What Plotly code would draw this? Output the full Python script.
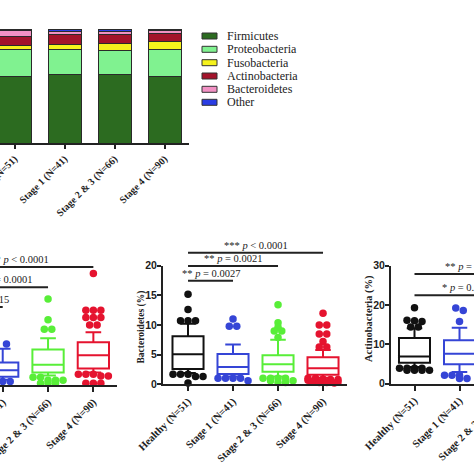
import plotly.graph_objects as go

# ---------------- data ----------------
CATS = ["Healthy (N=51)", "Stage 1 (N=41)", "Stage 2 & 3 (N=66)", "Stage 4 (N=90)"]
GROUP_COLORS = ["#111111", "#3545d6", "#58ee38", "#e5132f"]

PHYLA = ["Firmicutes", "Proteobacteria", "Fusobacteria", "Actinobacteria", "Bacteroidetes", "Other"]
PHYLA_COLORS = ["#2c6b20", "#80f290", "#f5f21c", "#a3132b", "#f291c4", "#2a3de4"]
firmicutes = [57.9, 59.9, 59.9, 58.2]
proteobacteria = [23.7, 22.5, 21.6, 23.4]
fusobacteria = [3.5, 4.1, 5.5, 7.6]
actinobacteria = [8.2, 8.5, 7.9, 6.7]
bacteroidetes = [5.0, 2.6, 3.0, 2.6]
other = [1.7, 2.4, 2.1, 1.5]
STACK = [firmicutes, proteobacteria, fusobacteria, actinobacteria, bacteroidetes, other]

# left (cropped) panel
left_q1 = [None, 1.4, 2.1, 2.8]
left_med = [None, 2.5, 3.4, 5.0]
left_q3 = [None, 3.8, 6.0, 7.2]
left_lo = [None, 0.9, 1.6, 2.1]
left_hi = [None, 6.1, 7.9, 8.9]
left_out = [[],
            [6.9, 6.9, 0.6, 0.6, 0.6],
            [14.5, 11.0, 9.4, 9.4, 1.3, 1.3, 0.8, 0.8, 0.8, 0.3, 0.3, 0.3],
            [18.8, 12.6, 12.6, 12.6, 11.4, 11.4, 11.4, 10.1, 10.1, 1.8, 1.8, 1.8, 1.5, 1.5, 0.3, 0.3, 0.3]]
left_brackets = [(0, 3, 19.9, "*** <i>p</i> &lt; 0.0001"),
                 (0, 2, 16.5, "** <i>p</i> = 0.0001"),
                 (0, 1, 13.15, "* <i>p</i> = 0.0015")]

# Bacteroidetes panel
bac_q1 = [2.6, 1.75, 2.1, 1.6]
bac_med = [5.06, 2.9, 3.4, 2.7]
bac_q3 = [8.1, 5.1, 4.9, 4.55]
bac_lo = [1.9, 1.3, 1.3, 1.1]
bac_hi = [10.2, 6.7, 7.5, 5.8]
bac_out = [[15.2, 12.6, 10.7, 10.7, 10.7, 1.7, 1.7, 1.7, 1.3, 1.3, 0.2],
           [11.0, 9.8, 9.8, 1.0, 1.0, 1.0, 1.0, 0.6],
           [13.4, 10.4, 9.6, 9.0, 9.0, 7.9, 1.0, 1.0, 1.0, 1.0, 0.6, 0.6, 0.3, 0.3],
           [12.0, 10.0, 10.0, 8.5, 8.5, 7.2, 6.3, 6.3, 1.0, 1.0, 0.9, 0.8, 0.8, 0.7, 0.6,
            0.6, 0.5, 0.4, 0.4, 0.3, 0.3, 0.2]]
bac_brackets = [(0, 3, 22.19, "*** <i>p</i> &lt; 0.0001"),
                (0, 2, 19.95, "** <i>p</i> = 0.0021"),
                (0, 1, 17.47, "** <i>p</i> = 0.0027")]

# Actinobacteria panel (cropped)
act_q1 = [5.3, 4.9, None, None]
act_med = [6.9, 7.6, None, None]
act_q3 = [11.6, 11.0, None, None]
act_lo = [4.2, 2.9, None, None]
act_hi = [14.1, 14.2, None, None]
act_out = [[19.3, 16.1, 16.0, 15.8, 14.4, 14.4, 3.9, 3.9, 3.9, 3.9, 3.4, 3.4, 3.4, 3.4],
           [19.2, 18.6, 15.8, 2.1, 2.1, 2.1, 1.3, 1.3, 1.3],
           [], []]
act_brackets = [(0, 3, 27.9, "** <i>p</i> = 0.0012"),
                (0, 2, 22.45, "* <i>p</i> = 0.0196")]

# ---------------- layout geometry ----------------
W = H = 474
SERIF = "Liberation Serif, Times New Roman, serif"
SANS = "Liberation Sans, Arial, sans-serif"
AXC = "#222222"

P_BAR = dict(xd=[0, 189 / W], xr=[-0.29, 3.49], yd=[1 - 143 / H, 1 - 29 / H], yr=[0, 100])
P_L = dict(xd=[0, 116.7 / W], xr=[0.94, 3.515], yd=[1 - 385 / H, 1 - 266.4 / H], yr=[0, 20])
P_M = dict(xd=[163 / W, 347 / W], xr=[-0.556, 3.533], yd=[1 - 384.3 / H, 1 - 265.7 / H], yr=[0, 20])
P_R = dict(xd=[391 / W, 1.0], xr=[-0.522, 1.322], yd=[1 - 383.5 / H, 1 - 265.7 / H], yr=[0, 30])


def px(p, v):
    return p["xd"][0] + (v - p["xr"][0]) / (p["xr"][1] - p["xr"][0]) * (p["xd"][1] - p["xd"][0])


def py(p, v):
    return p["yd"][0] + (v - p["yr"][0]) / (p["yr"][1] - p["yr"][0]) * (p["yd"][1] - p["yd"][0])


def swarm(center, values, tol, step, maxrow=5):
    rows = []
    for v in sorted(values, reverse=True):
        if rows and abs(rows[-1][0] - v) <= tol and len(rows[-1]) < maxrow:
            rows[-1].append(v)
        else:
            rows.append([v])
    xs, ys = [], []
    for row in rows:
        n = len(row)
        for k, v in enumerate(row):
            xs.append(center + (k - (n - 1) / 2) * step)
            ys.append(v)
    return xs, ys


fig = go.Figure()

# stacked bars
for name, vals, col in zip(PHYLA, STACK, PHYLA_COLORS):
    fig.add_trace(go.Bar(x=list(range(4)), y=vals, name=name, width=0.66,
                         marker=dict(color=col, line=dict(color="#2a2a2a", width=1)),
                         xaxis="x", yaxis="y"))


def add_box_panel(p, xa, ya, q1, med, q3, lo, hi, outs):
    ppu_y = (p["yd"][1] - p["yd"][0]) * H / (p["yr"][1] - p["yr"][0])
    ppu_x = (p["xd"][1] - p["xd"][0]) * W / (p["xr"][1] - p["xr"][0])
    tol = 3.5 / ppu_y
    step = 7.5 / ppu_x
    for i in range(4):
        col = GROUP_COLORS[i]
        if q1[i] is not None:
            fig.add_trace(go.Box(x=[i], q1=[q1[i]], median=[med[i]], q3=[q3[i]],
                                 lowerfence=[lo[i]], upperfence=[hi[i]], width=0.69,
                                 whiskerwidth=0.5, boxpoints=False,
                                 line=dict(color=col, width=2), fillcolor="rgba(0,0,0,0)",
                                 xaxis=xa, yaxis=ya))
        if outs[i]:
            xs, ys = swarm(i, outs[i], tol, step)
            fig.add_trace(go.Scatter(x=xs, y=ys, mode="markers", cliponaxis=False,
                                     marker=dict(color=col, size=7.5, line=dict(width=0)),
                                     xaxis=xa, yaxis=ya))


add_box_panel(P_L, "x2", "y2", left_q1, left_med, left_q3, left_lo, left_hi, left_out)
add_box_panel(P_M, "x3", "y3", bac_q1, bac_med, bac_q3, bac_lo, bac_hi, bac_out)
add_box_panel(P_R, "x4", "y4", act_q1, act_med, act_q3, act_lo, act_hi, act_out)

shapes, annots = [], []


def add_brackets(p, brackets, mode, anchors=None):
    for k, (a, b, yv, txt) in enumerate(brackets):
        y = py(p, yv)
        shapes.append(dict(type="line", xref="paper", yref="paper", x0=px(p, a), x1=px(p, b),
                           y0=y, y1=y, line=dict(color=AXC, width=2)))
        if mode == "center":
            ax, xa = px(p, (a + b) / 2), "center"
        else:
            ax, xa = px(p, anchors[k]), mode
        annots.append(dict(xref="paper", yref="paper", x=ax, y=y, xanchor=xa, yanchor="bottom",
                           text=txt, showarrow=False,
                           font=dict(family=SERIF, size=10.5, color="#222")))


add_brackets(P_L, left_brackets, "right", [2.062, 1.687, 1.172])
add_brackets(P_M, bac_brackets, "center")
add_brackets(P_R, act_brackets, "left", [0.633, 0.567])

# legend
leg_y = [36, 49.3, 62.7, 76, 89.3, 102.3]
for name, col, yc in zip(PHYLA, PHYLA_COLORS, leg_y):
    shapes.append(dict(type="rect", xref="paper", yref="paper", x0=202 / W, x1=217 / W,
                       y0=1 - (yc + 3) / H, y1=1 - (yc - 3) / H, fillcolor=col,
                       line=dict(color="#333", width=1)))
    annots.append(dict(xref="paper", yref="paper", x=225 / W, y=1 - yc / H, xanchor="left",
                       yanchor="middle", text=name, showarrow=False,
                       font=dict(family=SERIF, size=12, color="#222")))

# y titles
annots.append(dict(xref="paper", yref="paper", x=141 / W, y=1 - 327.5 / H, text="Bacteroidetes (%)",
                   textangle=-90, showarrow=False, xanchor="center", yanchor="middle",
                   font=dict(family=SERIF, size=9.5, color="#222", weight="bold")))
annots.append(dict(xref="paper", yref="paper", x=369 / W, y=1 - 319 / H, text="Actinobacteria (%)",
                   textangle=-90, showarrow=False, xanchor="center", yanchor="middle",
                   font=dict(family=SERIF, size=10.5, color="#222", weight="bold")))

# cut-off category label of the right panel
annots.append(dict(xref="paper", yref="paper", x=px(P_R, 2) + 3.5 / W, y=P_R["yd"][0] - 8 / H,
                   text=CATS[2], textangle=-45, showarrow=False, xanchor="right", yanchor="top",
                   font=dict(family=SERIF, size=10.5, color="#222", weight="bold")))


def xaxis(p, size):
    return dict(domain=p["xd"], range=p["xr"], tickmode="array", tickvals=list(range(4)),
                ticktext=CATS, tickangle=-45, showline=True, linecolor=AXC, linewidth=2,
                ticks="outside", ticklen=5, tickwidth=2, tickcolor=AXC, showgrid=False,
                zeroline=False, fixedrange=True, automargin=False, ticklabeloverflow="allow",
                tickfont=dict(family=SERIF, size=size, color="#222", weight="bold"))


def yaxis(p, dtick, visible=True):
    return dict(domain=p["yd"], range=p["yr"], visible=visible, showline=True, linecolor=AXC,
                linewidth=2, ticks="outside", ticklen=4, tickwidth=2, tickcolor=AXC,
                dtick=dtick, showgrid=False, zeroline=False, automargin=False,
                ticklabelstandoff=-2,
                tickfont=dict(family=SANS, size=10.5, color="#222", weight="bold"))


fig.update_layout(
    template="none",
    width=W, height=H, margin=dict(l=0, r=0, t=0, b=0, pad=0), autosize=False,
    paper_bgcolor="white", plot_bgcolor="rgba(0,0,0,0)", showlegend=False,
    barmode="stack",
    xaxis=dict(xaxis(P_BAR, 10), ticklen=4, anchor="y"),
    yaxis=yaxis(P_BAR, 20, visible=False),
    xaxis2=dict(xaxis(P_L, 10.5), anchor="y2"),
    yaxis2=dict(yaxis(P_L, 5, visible=False), anchor="x2"),
    xaxis3=dict(xaxis(P_M, 10.5), anchor="y3"),
    yaxis3=dict(yaxis(P_M, 5), anchor="x3"),
    xaxis4=dict(xaxis(P_R, 10.5), anchor="y4"),
    yaxis4=dict(yaxis(P_R, 10), anchor="x4"),
    shapes=shapes, annotations=annots,
)

fig.write_html(
    "out.html",
    config={"displayModeBar": False},
    post_script="document.body.style.margin='0';document.body.style.overflow='hidden';",
)
